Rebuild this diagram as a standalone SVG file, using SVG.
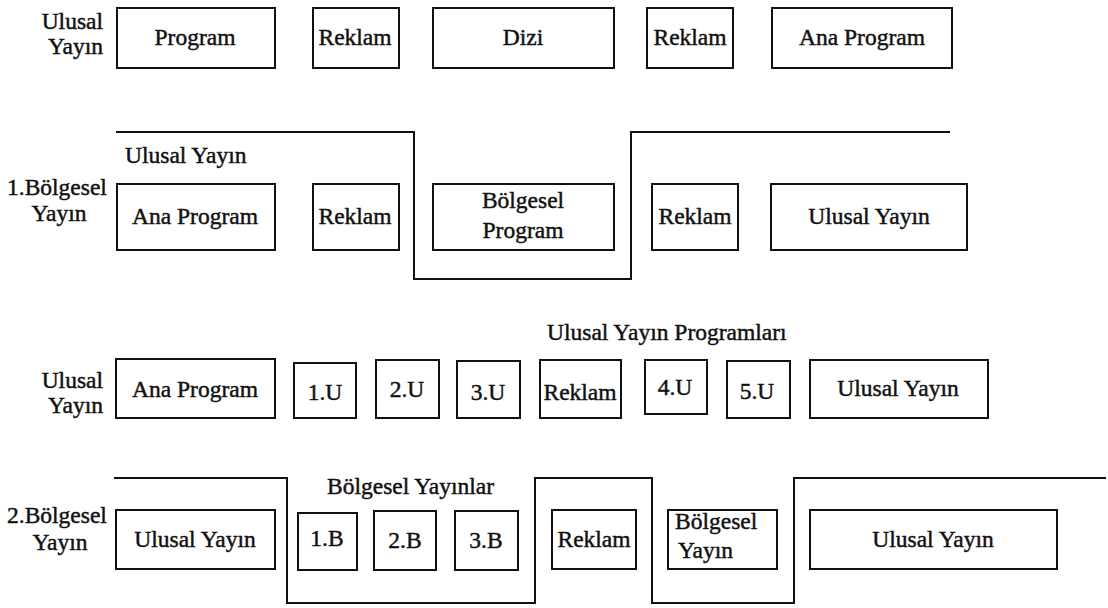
<svg xmlns="http://www.w3.org/2000/svg" width="1108" height="608" viewBox="0 0 1108 608">
  <style>
    .box { fill: #fff; stroke: #111; stroke-width: 2; }
    .step { fill: none; stroke: #111; stroke-width: 2; }
    text { font-family: "Liberation Serif", "Times New Roman", serif; font-size: 23.5px; fill: #111; stroke: #111; stroke-width: 0.45; }
    .c { text-anchor: middle; }
    .r { text-anchor: end; }
  </style>
  <rect width="1108" height="608" fill="#fff"/>

  <!-- row 1: national broadcast -->
  <g id="row1-label"><text class="r" x="103" y="29">Ulusal</text><text class="r" x="103" y="54">Yayın</text></g>
  <g id="r1-program"><rect class="box" x="117" y="8" width="158" height="60"/><text class="c" x="195" y="45">Program</text></g>
  <g id="r1-reklam1"><rect class="box" x="313" y="8" width="86" height="60"/><text class="c" x="355" y="45">Reklam</text></g>
  <g id="r1-dizi"><rect class="box" x="433" y="8" width="181" height="60"/><text class="c" x="523" y="45">Dizi</text></g>
  <g id="r1-reklam2"><rect class="box" x="647" y="8" width="86" height="60"/><text class="c" x="690" y="45">Reklam</text></g>
  <g id="r1-ana"><rect class="box" x="772" y="8" width="180" height="60"/><text class="c" x="862" y="45">Ana Program</text></g>

  <!-- row 2: first regional broadcast -->
  <g id="row2-label"><text x="7" y="195">1.Bölgesel</text><text class="c" x="59" y="221">Yayın</text></g>
  <g id="r2-title"><text x="125" y="163">Ulusal Yayın</text></g>
  <g id="r2-ana"><rect class="box" x="117" y="184" width="158" height="66"/><text class="c" x="195" y="224">Ana Program</text></g>
  <g id="r2-reklam1"><rect class="box" x="313" y="184" width="86" height="66"/><text class="c" x="355" y="224">Reklam</text></g>
  <g id="r2-bolgesel"><rect class="box" x="433" y="184" width="181" height="66"/><text class="c" x="523" y="208">Bölgesel</text><text class="c" x="523" y="238">Program</text></g>
  <g id="r2-reklam2"><rect class="box" x="652" y="184" width="86" height="66"/><text class="c" x="695" y="224">Reklam</text></g>
  <g id="r2-ulusal"><rect class="box" x="771" y="184" width="196" height="66"/><text class="c" x="869" y="224">Ulusal  Yayın</text></g>

  <!-- row 3: national programme slots -->
  <g id="row3-label"><text class="r" x="103" y="388">Ulusal</text><text class="r" x="103" y="413">Yayın</text></g>
  <g id="r3-title"><text x="547" y="340">Ulusal Yayın Programları</text></g>
  <g id="r3-ana"><rect class="box" x="116" y="359" width="159" height="59"/><text class="c" x="195" y="397">Ana Program</text></g>
  <g id="r3-u1"><rect class="box" x="294" y="363" width="62" height="55"/><text class="c" x="325" y="400">1.U</text></g>
  <g id="r3-u2"><rect class="box" x="376" y="360" width="63" height="58"/><text class="c" x="407" y="397">2.U</text></g>
  <g id="r3-u3"><rect class="box" x="457" y="361" width="63" height="57"/><text class="c" x="488" y="400">3.U</text></g>
  <g id="r3-reklam"><rect class="box" x="540" y="360" width="81" height="58"/><text class="c" x="580" y="400">Reklam</text></g>
  <g id="r3-u4"><rect class="box" x="645" y="360" width="62" height="54"/><text class="c" x="675" y="395">4.U</text></g>
  <g id="r3-u5"><rect class="box" x="727" y="361" width="63" height="57"/><text class="c" x="757" y="399">5.U</text></g>
  <g id="r3-ulusal"><rect class="box" x="810" y="360" width="178" height="58"/><text class="c" x="898" y="396">Ulusal Yayın</text></g>

  <!-- row 4: second regional broadcast -->
  <g id="row4-label"><text x="7" y="523">2.Bölgesel</text><text class="c" x="60" y="550">Yayın</text></g>
  <g id="r4-title"><text x="327" y="494">Bölgesel Yayınlar</text></g>
  <g id="r4-ulusal1"><rect class="box" x="116" y="510" width="159" height="59"/><text class="c" x="195" y="547">Ulusal Yayın</text></g>
  <g id="r4-b1"><rect class="box" x="298" y="513" width="59" height="57"/><text class="c" x="327" y="546">1.B</text></g>
  <g id="r4-b2"><rect class="box" x="374" y="511" width="62" height="59"/><text class="c" x="405" y="548">2.B</text></g>
  <g id="r4-b3"><rect class="box" x="455" y="511" width="63" height="59"/><text class="c" x="486" y="548">3.B</text></g>
  <g id="r4-reklam"><rect class="box" x="552" y="510" width="84" height="59"/><text class="c" x="594" y="547">Reklam</text></g>
  <g id="r4-bolgesel"><rect class="box" x="668" y="510" width="109" height="59"/><text x="675" y="529">Bölgesel</text><text x="678" y="558">Yayın</text></g>
  <g id="r4-ulusal2"><rect class="box" x="810" y="510" width="247" height="59"/><text class="c" x="933" y="547">Ulusal Yayın</text></g>

  <!-- switching lines between national and regional feeds -->
  <g id="connectors">
    <polyline class="step" points="116,132 414,132 414,279 631,279 631,132 950,132"/>
    <polyline class="step" points="114,478 287,478 287,603 535,603 535,478 652,478 652,603 794,603 794,478 1106,478"/>
  </g>
</svg>
